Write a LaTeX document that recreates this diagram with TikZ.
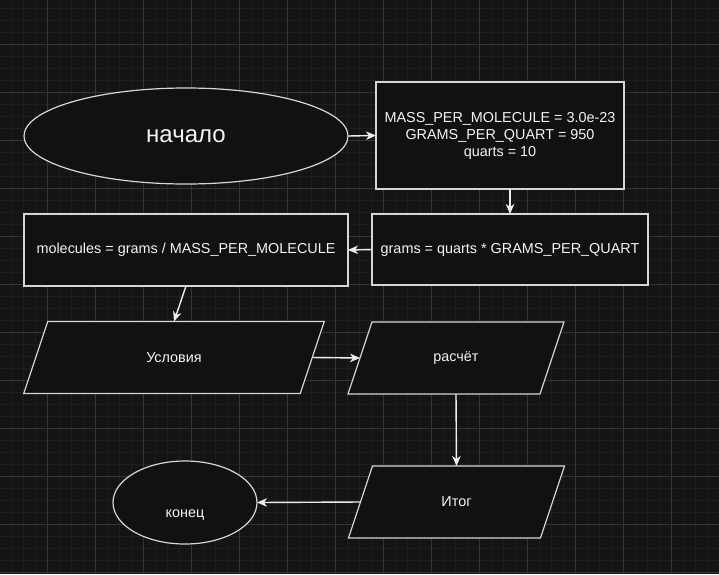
\documentclass[tikz,border=0pt]{standalone}
\usepackage{fontspec}
\setmainfont{Liberation Sans}
\usetikzlibrary{shapes.geometric,arrows.meta}
\definecolor{bgc}{HTML}{141414}
\definecolor{minorc}{HTML}{1E1E1E}
\definecolor{majorc}{HTML}{343434}
\definecolor{shapefill}{HTML}{111111}
\definecolor{strokec}{HTML}{D6D6D6}
\definecolor{txtc}{HTML}{F4F4F4}
\definecolor{arrc}{HTML}{EDEDED}
\pgfdeclarelayer{gridlayer}
\pgfdeclarelayer{shapelayer}
\pgfsetlayers{gridlayer,shapelayer,main}
\tikzset{
  base/.style={draw=strokec, fill=shapefill, line width=1.2pt, text=txtc,
    font=\fontsize{14.4}{17}\selectfont, inner sep=0pt, outer sep=0pt, align=center},
  rectbox/.style={base, rectangle},
  ovalbox/.style={base, ellipse},
  parabox/.style={rectangle, draw=none, text=txtc, font=\fontsize{14.4}{17}\selectfont,
    inner sep=0pt, outer sep=0pt, minimum height=72pt},
  paraline/.style={draw=strokec, fill=shapefill, line width=1.2pt, line join=miter},
  arr/.style={draw=arrc, line width=1.4pt, -{Stealth[length=10pt,width=8.5pt,inset=3pt]}},
  minorline/.style={draw=minorc, line width=0.8pt},
  majorline/.style={draw=majorc, line width=0.9pt},
}
\newcommand{\drawpara}[1]{%
  \begin{pgfonlayer}{shapelayer}
  \path[paraline] ([xshift=12pt]#1.north west) -- ([xshift=12pt]#1.north east)
     -- ([xshift=-12pt]#1.south east) -- ([xshift=-12pt]#1.south west) -- cycle;
  \end{pgfonlayer}}
\begin{document}
\begin{tikzpicture}[x=1pt,y=-1pt]
\begin{pgfonlayer}{gridlayer}
  \fill[bgc] (0,0) rectangle (719,574);
  \useasboundingbox (0,0) rectangle (719,574);
  \foreach \i in {0,...,59} \draw[minorline] ({11.7+12*\i},0) -- ({11.7+12*\i},574);
  \foreach \i in {0,...,47} \draw[minorline] (0,{8.7+12*\i}) -- (719,{8.7+12*\i});
  \foreach \i in {0,...,14} \draw[majorline] ({47.7+48*\i},0) -- ({47.7+48*\i},574);
  \foreach \i in {0,...,11} \draw[majorline] (0,{44.7+48*\i}) -- (719,{44.7+48*\i});
\end{pgfonlayer}

% nodes
\node[ovalbox, minimum width=324pt, minimum height=96pt,
      font=\fontsize{24}{28}\selectfont] (start) at (186,136) {начало};
\node[rectbox, minimum width=248pt, minimum height=107pt] (init) at (500,135.5)
  {MASS\_PER\_MOLECULE = 3.0e-23\\GRAMS\_PER\_QUART = 950\\quarts = 10\rule[-1.5pt]{0pt}{1pt}};
\node[rectbox, minimum width=276pt, minimum height=71pt] (grams) at (510,249.5)
  {grams = quarts * GRAMS\_PER\_QUART};
\node[rectbox, minimum width=324pt, minimum height=72pt] (mol) at (186,250)
  {molecules = grams / MASS\_PER\_MOLECULE};
\node[parabox, minimum width=276.5pt] (usl) at (174,357.5) {Условия};
\node[parabox, minimum width=192pt] (calc) at (456,358) {расчёт};
\node[parabox, minimum width=192pt] (itog) at (456.5,502) {Итог};
\node[ovalbox, minimum width=144pt, minimum height=83pt,
      label={[text=txtc, font=\fontsize{14.4}{17}\selectfont, yshift=-12.5pt]center:конец}]
      (kon) at (185,502.5) {};

\drawpara{usl}
\drawpara{calc}
\drawpara{itog}

% connectors
\draw[arr] (start.east) -- (init.west);
\draw[arr] (init.south -| grams.north) -- (grams.north);
\draw[arr] (grams.west) -- (mol.east);
\draw[arr] (mol.south) -- (usl.north);
\draw[arr] (usl.east) -- (calc.west);
\draw[arr] (calc.south) -- (itog.north);
\draw[arr] (itog.west) -- (kon.east);
\end{tikzpicture}
\end{document}
